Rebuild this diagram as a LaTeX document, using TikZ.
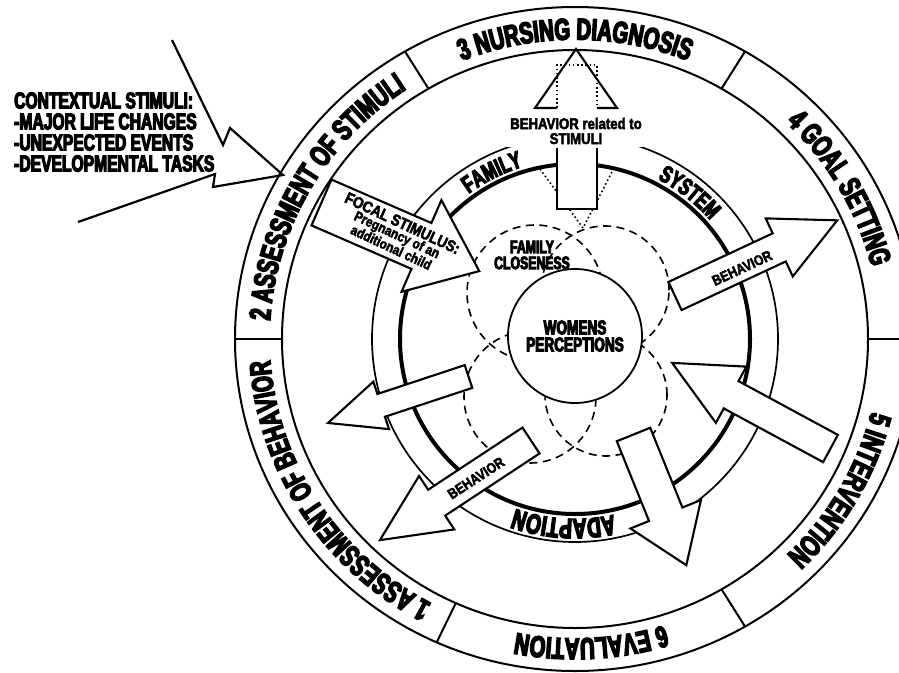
\documentclass[tikz,border=0pt]{standalone}
\usepackage{fontspec}
\usetikzlibrary{calc,decorations.text}
\newfontfamily\hvA[FakeStretch=0.68,FakeBold=5]{Liberation Sans Bold}
\newfontfamily\hvB[FakeStretch=0.85,FakeBold=3]{Liberation Sans Bold}
\newcommand\ringfont{\hvA\fontsize{30}{30}\selectfont}
\newcommand\innerfont{\hvA\fontsize{24}{24}\selectfont}
\newcommand\bigfont{\hvA\fontsize{28}{28}\selectfont}
\newcommand\ringtext[3]{\path[decorate,decoration={text along path,text align=center,text={|\ringfont|#3}}] ($(C)+(#1:305.5pt and 299.5pt)$) arc[start angle=#1,end angle=#2,x radius=305.5pt,y radius=299.5pt];}
\newcommand\innertext[4]{\path[decorate,decoration={text along path,text align=center,text={|#4|#3}}] ($(C)+(#1:180pt)$) arc[start angle=#1,end angle=#2,radius=180pt];}
% name, tail x, tail y (screen px), angle, shaft length, head length, shaft half width, head half width
\newcommand\barrow[8]{%
 \begin{scope}[shift={(#2,-#3)},rotate=#4]
  \draw[arrowbox] (0,#7) -- (#5,#7) -- (#5,#8) -- ({#5+#6},0) -- (#5,-#8) -- (#5,-#7) -- (0,-#7) -- cycle;
  \coordinate (#1) at ({#5/2},0);
 \end{scope}}
\tikzset{
 ringline/.style={line width=2pt},
 thinring/.style={line width=1.7pt},
 thickring/.style={line width=4pt},
 dashring/.style={line width=1.6pt,dash pattern=on 8pt off 5.5pt},
 arrowbox/.style={draw,fill=white,line width=2.1pt,line join=miter},
 dotline/.style={line width=1.6pt,dash pattern=on 1.6pt off 2.6pt},
 label/.style={inner sep=0pt,align=center},
}
\begin{document}
\begin{tikzpicture}[x=1pt,y=1pt,line join=miter]
\useasboundingbox (0,0) rectangle (899,-672);
\clip (0,0) rectangle (899,-672);
\coordinate (C) at (575,-339);
% outer band
\draw[ringline] (C) ellipse [x radius=340pt, y radius=332pt];
\draw[ringline] (C) ellipse [x radius=293pt, y radius=289pt];
\foreach \a in {180,120,60,0,-60,-114}
  \draw[ringline] ($(C)+(\a:293pt and 289pt)$) -- ($(C)+(\a:340pt and 332pt)$);
\ringtext{246}{180}{1 ASSESSMENT OF BEHAVIOR}
\ringtext{180}{120}{2 ASSESSMENT OF STIMULI}
\ringtext{120}{60}{3 NURSING DIAGNOSIS}
\ringtext{60}{0}{4 GOAL SETTING}
\ringtext{0}{-60}{5 INTERVENTION}
\ringtext{-60}{-114}{6 EVALUATION}
% family system rings
\draw[thinring] (C) circle[radius=203pt];
\draw[thickring] (C) circle[radius=175pt];
% dashed circles
\draw[dashring] (535,-293) circle[radius=68pt];
\draw[dashring] (605,-290) circle[radius=64pt];
\draw[dashring] (530,-397) circle[radius=66pt];
\draw[dashring] (606,-395) circle[radius=61pt];
\node[circle,draw,fill=white,line width=1.8pt,minimum size=134pt,inner sep=0pt,align=center,
  font=\hvA\fontsize{20}{17}\selectfont] (women) at (575,-336) {WOMENS\\PERCEPTIONS};
% dotted lines under the up arrow
\coordinate (dv) at (583,-228);
\coordinate (dl) at (540,-169);
\coordinate (dr) at (613,-170);
\draw[dotline] (dl) -- (dv) -- (dr);
% block arrows
\barrow{focal}{321.5}{202.5}{-23.5}{109}{63}{25}{50}
\barrow{behA}{675}{296}{25}{115}{64}{15.5}{32}
\barrow{inA}{830.5}{448.5}{151.6}{113}{67}{15.5}{32}
\barrow{downA}{633.5}{434.5}{-68}{86}{55}{18}{38}
\barrow{leftA}{468.5}{376.5}{198.3}{92}{56}{12}{25}
\barrow{behB}{531}{440.5}{213.4}{113}{68}{15.5}{32}
% up arrow (behavior related to stimuli)
\fill[white] (557,-148) rectangle (597,-209);
\draw[line width=2.1pt] (557,-148) -- (557,-209) -- (597,-209) -- (597,-148);
\draw[line width=2.1pt,fill=white] (557,-108) -- (535,-108) -- (576,-49) -- (617,-108) -- (597,-108);
\draw[dotline] (557,-108) -- (557,-65) -- (597,-65) -- (597,-108);
\node[fill=white,inner sep=3pt,align=center,font=\hvB\fontsize{15.5}{15}\selectfont] (bstim) at (576,-131) {BEHAVIOR related to\\STIMULI};
% inner ring words
\innertext{129}{104}{FAMILY}{\innerfont}
\innertext{64}{40}{SYSTEM}{\innerfont}
\innertext{-73}{-114}{ADAPTION}{\bigfont}
% labels
\node[label,font=\hvA\fontsize{18}{16}\selectfont] (fc) at (532,-255) {FAMILY\\CLOSENESS};
\node[label,rotate=-25] (focaltxt) at (397,-235) {{\hvB\fontsize{16}{14}\selectfont FOCAL STIMULUS:}\\{\hvB\fontsize{14}{12}\selectfont Pregnancy of an}\\{\hvB\fontsize{14}{12}\selectfont additional child}};
\node[label,rotate=25,font=\hvB\fontsize{14.5}{14}\selectfont] (behAt) at (742,-268) {BEHAVIOR};
\node[label,rotate=33,font=\hvB\fontsize{14.5}{14}\selectfont] (behBt) at (476,-478) {BEHAVIOR};
% contextual stimuli
\node[anchor=west,align=left,inner sep=0pt,font=\hvA\fontsize{23}{21}\selectfont] (ctx) at (14,-132) {CONTEXTUAL STIMULI:\\-MAJOR LIFE CHANGES\\-UNEXPECTED EVENTS\\-DEVELOPMENTAL TASKS};
\coordinate (ztip) at (283,-175);
\draw[line width=2.2pt] (172,-40) -- (223,-145) -- (230,-128) -- (ztip) -- (213,-187) -- (215,-174) -- (78,-222);
\end{tikzpicture}
\end{document}
